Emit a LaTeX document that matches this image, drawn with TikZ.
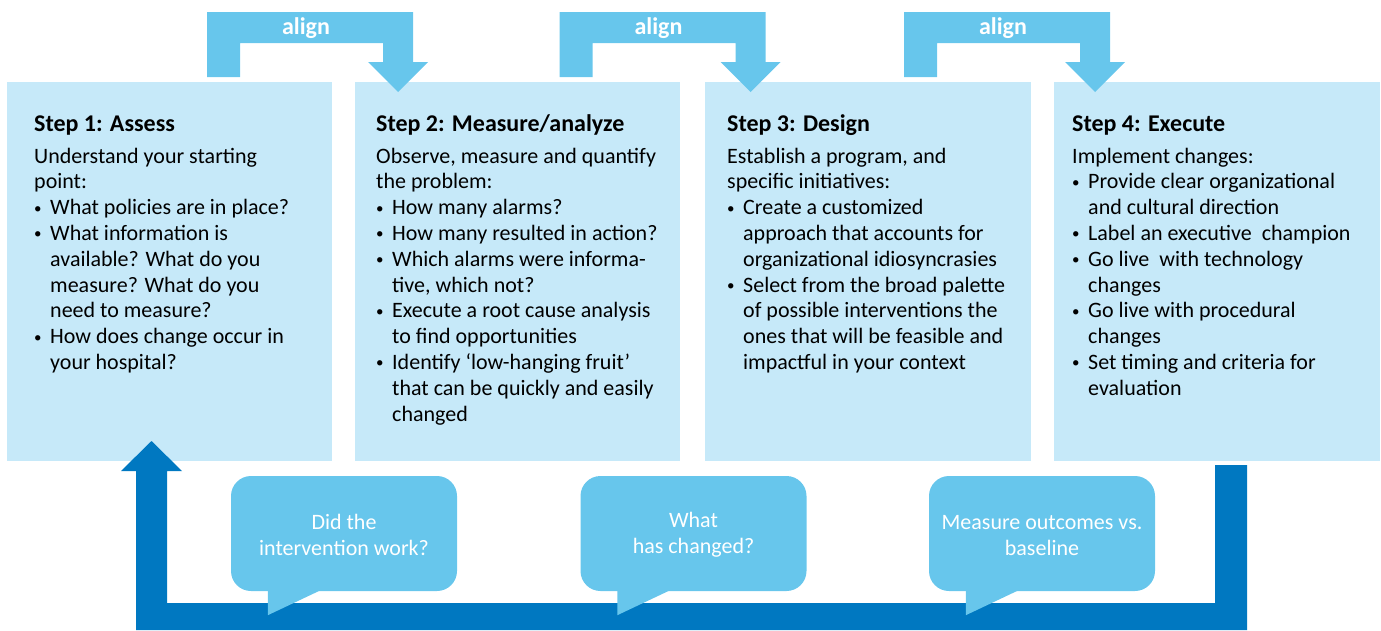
\documentclass[tikz,border=0pt]{standalone}
\usepackage{fontspec}
\setmainfont{Carlito}
\usetikzlibrary{positioning}
\definecolor{boxblue}{HTML}{C6E9F9}
\definecolor{alignblue}{HTML}{67C6EC}
\definecolor{loopblue}{HTML}{0078C1}
\newcommand{\stepbul}{\makebox[16pt][l]{\raisebox{1.5pt}{\fontsize{15}{15}\selectfont\textbullet}}}
\newcommand{\stepind}{\hspace*{16pt}}
\newcommand{\stephead}[1]{{\fontsize{24}{25.8}\selectfont\bfseries\strut #1}}
\begin{document}
\begin{tikzpicture}[x=1pt,y=-1pt,
    stepbox/.style={fill=boxblue,minimum width=325pt,minimum height=379pt,anchor=north west,inner sep=0},
    steptext/.style={align=left,inner sep=0,font=\fontsize{22}{25.8}\selectfont},
    bubble/.style={fill=alignblue,rounded corners=20pt,minimum width=226pt,minimum height=115pt,
        align=center,text=white,font=\fontsize{22}{26}\selectfont},
    aligntext/.style={text=white,font=\bfseries\fontsize{24}{26}\selectfont}]
    \useasboundingbox (0,0) rectangle (1381,630);

    % the four steps
    \node[stepbox] (s1) at (7,82) {};
    \node[stepbox] (s2) at (355,82) {};
    \node[stepbox,minimum width=326pt] (s3) at (705,82) {};
    \node[stepbox,minimum width=326pt] (s4) at (1054,82) {};

    \node[steptext,below right=31pt and 27pt of s1.north west] (t1) {%
        \stephead{Step 1: Assess}\\[6pt]
        Understand your starting\\
        point:\\
        \stepbul What policies are in place?\\
        \stepbul What information is\\
        \stepind available? What do you\\
        \stepind measure? What do you\\
        \stepind need to measure?\\
        \stepbul How does change occur in\\
        \stepind your hospital?};
    \node[steptext,below right=31pt and 21pt of s2.north west] (t2) {%
        \stephead{Step 2: Measure/analyze}\\[6pt]
        Observe, measure and quantify\\
        the problem:\\
        \stepbul How many alarms?\\
        \stepbul How many resulted in action?\\
        \stepbul Which alarms were informa-\\
        \stepind tive, which not?\\
        \stepbul Execute a root cause analysis\\
        \stepind to find opportunities\\
        \stepbul Identify `low-hanging fruit'\\
        \stepind that can be quickly and easily\\
        \stepind changed};
    \node[steptext,below right=31pt and 22pt of s3.north west] (t3) {%
        \stephead{Step 3: Design}\\[6pt]
        Establish a program, and\\
        specific initiatives:\\
        \stepbul Create a customized\\
        \stepind approach that accounts for\\
        \stepind organizational idiosyncrasies\\
        \stepbul Select from the broad palette\\
        \stepind of possible interventions the\\
        \stepind ones that will be feasible and\\
        \stepind impactful in your context};
    \node[steptext,below right=31pt and 18pt of s4.north west] (t4) {%
        \stephead{Step 4: Execute}\\[6pt]
        Implement changes:\\
        \stepbul Provide clear organizational\\
        \stepind and cultural direction\\
        \stepbul Label an executive\ \ champion\\
        \stepbul Go live\ \ with technology\\
        \stepind changes\\
        \stepbul Go live with procedural\\
        \stepind changes\\
        \stepbul Set timing and criteria for\\
        \stepind evaluation};

    % align arrows
    \foreach \dx/\name in {0/a1,352.5/a2,697/a3} {
        \fill[alignblue,shift={(\dx,0)}] (207,12) -- (413,12) -- (413,62) -- (428,62) -- (398,92)
            -- (368,62) -- (383,62) -- (383,43) -- (240,43) -- (240,77) -- (207,77) -- cycle;
        \node[aligntext] (\name) at (306+\dx,28) {align};
    }

    % feedback loop
    \fill[loopblue] (121,471) -- (151.5,441) -- (182,471) -- (167,471) -- (167,603) -- (1215,603)
        -- (1215,465) -- (1247,465) -- (1247,630) -- (136,630) -- (136,471) -- cycle;

    % questions
    \node[bubble] (b1) at (344,533.5) {\strut Did the\\intervention work?};
    \node[bubble] (b2) at (693.5,533.5) {\strut What\\has changed?};
    \node[bubble] (b3) at (1042,533.5) {\strut Measure outcomes vs.\\baseline};
    \foreach \b in {b1,b2,b3}
        \fill[alignblue] ([xshift=37pt,yshift=2pt]\b.south west) -- ++(0,26)
            -- ([xshift=92pt,yshift=2pt]\b.south west) -- cycle;
\end{tikzpicture}
\end{document}
